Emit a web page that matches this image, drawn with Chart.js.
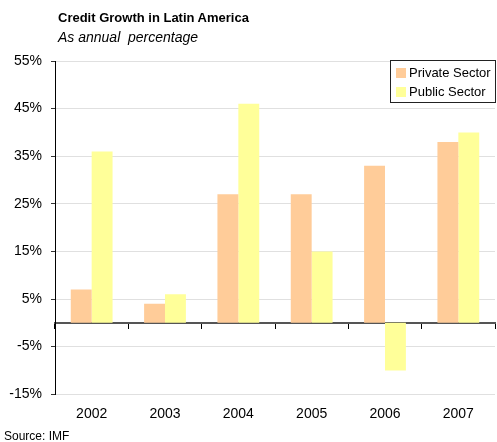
<!DOCTYPE html>
<html>
<head>
<meta charset="utf-8">
<script src="https://cdn.jsdelivr.net/npm/chart.js@4"></script>
<style>
  body { margin: 0; background: #fff; }
  #wrap { position: relative; width: 497px; height: 442px; font-family: "Liberation Sans", Arial, sans-serif; }
  #chartCredit { position: absolute; left: 0; top: 0; }
  .title { position: absolute; left: 58px; top: 10px; font-size: 13px; font-weight: bold; line-height: 16px; }
  .subtitle { position: absolute; left: 58px; top: 29px; font-size: 14px; font-style: italic; line-height: 16px; }
  .source { position: absolute; left: 4px; top: 428px; font-size: 12px; line-height: 16px; }
</style>
</head>
<body>
<div id="wrap">
  <canvas id="chartCredit" width="497" height="442"></canvas>
  <div class="title">Credit Growth in Latin America</div>
  <div class="subtitle">As annual&nbsp; percentage</div>
  <div class="source">Source: IMF</div>
</div>
<script>
const years = ["2002", "2003", "2004", "2005", "2006", "2007"];
const privateSector = [7, 4, 27, 27, 33, 38];
const publicSector = [36, 6, 46, 15, -10, 40];
const yTicks = [-15, 55, 10]; // min, max, step

const FONT = "'Liberation Sans', Arial, sans-serif";

// boxed legend in the top right corner of the plot
const boxLegend = {
    id: "boxLegend",
    afterDraw(chart) {
        const ctx = chart.ctx;
        const area = chart.chartArea;
        const w = 106, h = 43;
        const x = area.right - w + 1;
        const y = area.top - 1;
        ctx.save();
        ctx.fillStyle = "#fff";
        ctx.fillRect(x, y, w, h);
        ctx.strokeStyle = "#222";
        ctx.lineWidth = 1;
        ctx.strokeRect(x + 0.5, y + 0.5, w - 1, h - 1);
        ctx.font = "13px " + FONT;
        ctx.textBaseline = "middle";
        chart.data.datasets.forEach((ds, i) => {
            const cy = y + 13 + i * 19;
            ctx.fillStyle = ds.backgroundColor;
            ctx.fillRect(x + 6, cy - 5, 10, 10);
            ctx.fillStyle = "#000";
            ctx.fillText(ds.label, x + 19, cy);
        });
        ctx.restore();
    },
};

new Chart(document.getElementById("chartCredit"), {
    type: "bar",
    data: {
        labels: years,
        datasets: [
            {
                label: "Private Sector",
                backgroundColor: "#FFCC99",
                data: privateSector,
            },
            {
                label: "Public Sector",
                backgroundColor: "#FFFF99",
                data: publicSector,
            },
        ],
    },
    options: {
        responsive: false,
        animation: false,
        layout: { padding: { top: 61, right: 2, bottom: 15, left: 0 } },
        datasets: { bar: { categoryPercentage: 0.57, barPercentage: 1 } },
        plugins: {
            legend: { display: false },
            tooltip: { enabled: false },
        },
        scales: {
            x: {
                grid: { display: false },
                border: { display: false },
                ticks: { color: "#000", font: { family: FONT, size: 14 }, padding: 4 },
            },
            zero: {
                type: "category",
                axis: "x",
                position: { y: 0 },
                offset: true,
                grid: { offset: true, drawOnChartArea: false, drawTicks: true, tickLength: 5, tickColor: "#000" },
                border: { color: "#555", width: 2 },
                ticks: { display: false },
            },
            y: {
                min: yTicks[0],
                max: yTicks[1],
                ticks: {
                    stepSize: yTicks[2],
                    color: "#000",
                    padding: 9,
                    font: { family: FONT, size: 14 },
                    callback: (v) => v + "%",
                },
                grid: { color: "#e0e0e0", tickLength: 4, tickColor: "#333" },
                border: { color: "#000", width: 1 },
                afterFit: (s) => { s.width = 55; },
            },
        },
    },
    plugins: [boxLegend],
});
</script>
</body>
</html>
